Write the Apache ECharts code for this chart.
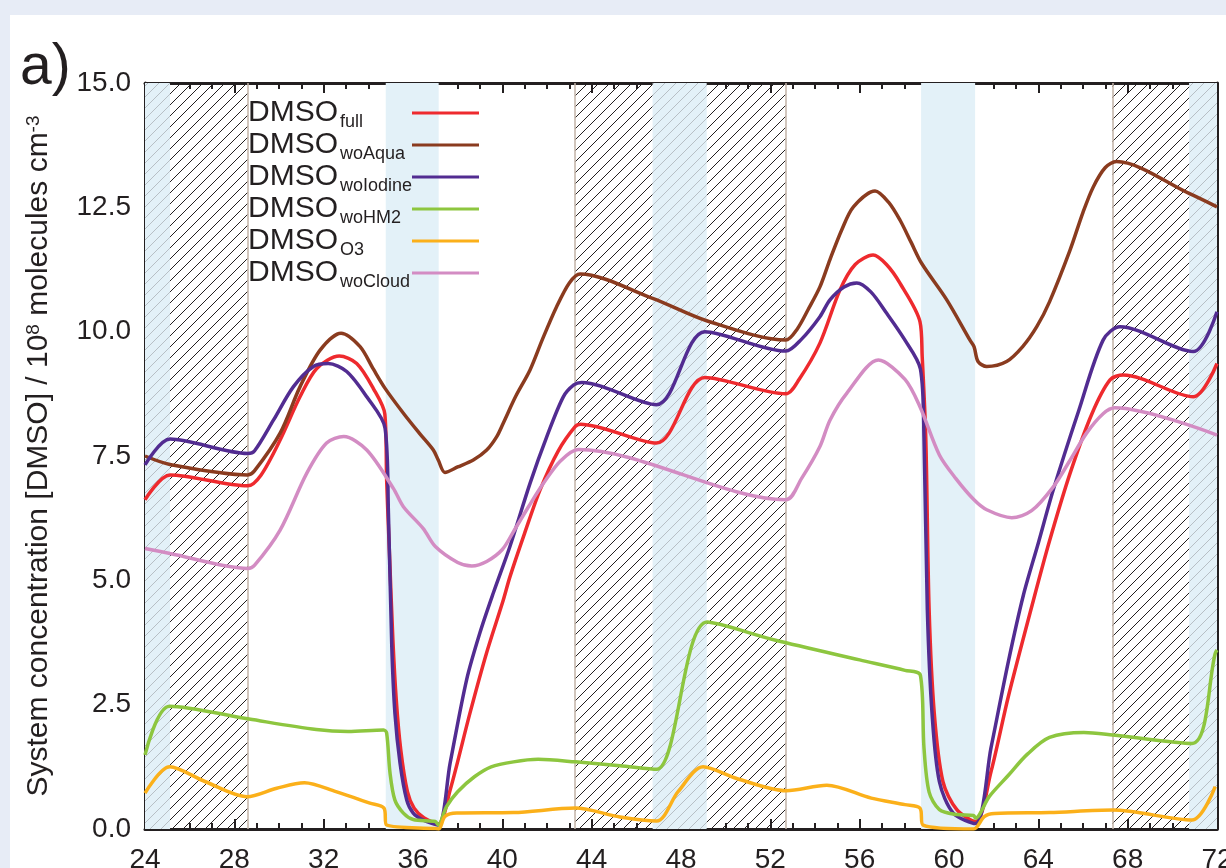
<!DOCTYPE html>
<html>
<head>
<meta charset="utf-8">
<title>DMSO system concentration</title>
<script src="https://cdn.jsdelivr.net/npm/echarts@6/dist/echarts.min.js"></script>
<style>
    html, body { margin: 0; padding: 0; background: #e7ecf6; }
    #chart1 { width: 1226px; height: 868px; }
</style>
</head>
<body>
<div id="chart1"></div>
<script>
// axis ticks
var hourTicks = [24, 28, 32, 36, 40, 44, 48, 52, 56, 60, 64, 68, 72];
var concTicks = [0, 2.5, 5, 7.5, 10, 12.5, 15];

// series: [hour, 10^8 molecules cm-3]
var dmsoFull = [[24, 6.62], [25.12, 7.12], [28.6, 6.90], [29.2, 7.12], [30.05, 7.82], [30.94, 8.69], [31.69, 9.26], [32.7, 9.51], [33.48, 9.36], [34.22, 8.86], [34.74, 8.34], [34.82, 7.02], [34.95, 5.5], [35.1, 3.8], [35.25, 2.6], [35.45, 1.6], [35.75, 0.75], [36.05, 0.42], [36.5, 0.22], [37.13, 0.10], [37.66, 0.78], [38.55, 2.33], [39.3, 3.55], [40.04, 4.6], [40.34, 5.07], [41.0, 5.95], [41.69, 6.82], [42.5, 7.6], [43.26, 8.09], [43.5, 8.14], [46.9, 7.76], [49.07, 9.08], [52.69, 8.75], [53.3, 9.05], [54.22, 9.77], [55.12, 10.84], [55.8, 11.35], [56.6, 11.54], [57.2, 11.35], [57.81, 10.97], [58.7, 10.20], [58.8, 9.5], [58.96, 7.87], [59.11, 4.41], [59.34, 2.33], [59.73, 0.95], [60.35, 0.39], [61.19, 0.15], [61.88, 1.15], [62.66, 2.67], [63.78, 4.6], [64.5, 5.79], [65.42, 7.15], [66.4, 8.35], [67.21, 9.03], [67.8, 9.13], [70.94, 8.69], [72, 9.36]];
var dmsoWoAqua = [[24, 7.50], [25.12, 7.33], [28.6, 7.12], [28.9, 7.2], [30.05, 7.96], [30.94, 8.89], [31.84, 9.63], [32.78, 9.97], [33.63, 9.70], [34.22, 9.25], [34.75, 8.86], [35.57, 8.36], [36.3, 7.95], [36.91, 7.62], [37.13, 7.42], [37.43, 7.17], [38.0, 7.28], [38.7, 7.42], [39.3, 7.62], [39.75, 7.89], [40.04, 8.16], [40.6, 8.7], [41.24, 9.23], [41.8, 9.85], [42.43, 10.50], [43.0, 10.98], [43.48, 11.16], [46.73, 10.67], [49.15, 10.22], [52.69, 9.83], [53.2, 10.05], [53.7, 10.45], [54.22, 10.90], [54.67, 11.45], [55.2, 12.05], [55.72, 12.51], [56.69, 12.83], [57.3, 12.6], [57.81, 12.24], [58.3, 11.8], [58.78, 11.37], [59.9, 10.64], [60.94, 9.83], [61.12, 9.7], [61.3, 9.4], [61.69, 9.30], [62.58, 9.40], [63.3, 9.7], [63.93, 10.10], [64.5, 10.6], [65.42, 11.64], [66.0, 12.4], [66.46, 12.91], [67.0, 13.3], [67.5, 13.42], [70.75, 12.78], [72, 12.51]];
var dmsoWoIodine = [[24, 7.32], [25.12, 7.84], [28.6, 7.55], [28.9, 7.6], [29.75, 8.22], [30.64, 8.89], [31.54, 9.30], [32.2, 9.36], [33.03, 9.20], [33.93, 8.69], [34.75, 8.06], [34.9, 6.35], [35.05, 3.67], [35.19, 2.33], [35.42, 1.32], [35.72, 0.58], [36.01, 0.32], [36.46, 0.18], [37.13, 0.08], [37.66, 1.32], [38.4, 3.0], [39.0, 3.95], [39.6, 4.75], [40.34, 5.68], [41.24, 6.95], [42.0, 7.9], [42.73, 8.69], [43.2, 8.93], [43.55, 8.98], [46.9, 8.53], [49.07, 10.0], [52.69, 9.61], [53.4, 9.85], [54.22, 10.30], [54.67, 10.64], [55.3, 10.9], [55.87, 10.98], [56.5, 10.8], [57.21, 10.37], [58.0, 9.85], [58.72, 9.25], [58.88, 7.87], [59.03, 4.41], [59.24, 2.33], [59.57, 0.95], [60.19, 0.32], [61.19, 0.11], [61.88, 1.63], [62.66, 3.37], [63.33, 4.7], [64.0, 5.75], [64.67, 6.82], [65.8, 8.4], [66.9, 9.83], [67.66, 10.10], [70.94, 9.60], [72, 10.40]];
var dmsoWoHM2 = [[24, 1.49], [25.1, 2.47], [28.66, 2.21], [31.67, 2.00], [33.09, 1.96], [34.68, 1.99], [34.82, 1.93], [34.97, 1.13], [35.19, 0.58], [35.57, 0.32], [36.01, 0.19], [37.0, 0.15], [37.13, 0.08], [37.5, 0.45], [38.0, 0.75], [38.75, 1.05], [39.5, 1.25], [40.5, 1.35], [41.6, 1.40], [43.27, 1.35], [45.27, 1.27], [46.91, 1.20], [49.17, 4.16], [52.19, 3.80], [56.0, 3.40], [58.03, 3.19], [58.72, 3.09], [58.88, 1.63], [59.11, 0.74], [59.57, 0.39], [60.35, 0.29], [61.1, 0.27], [61.19, 0.22], [61.8, 0.65], [62.66, 1.08], [63.5, 1.5], [64.5, 1.84], [66.04, 1.94], [67.33, 1.89], [70.88, 1.72], [71.92, 3.53], [72, 3.6]];
var dmsoO3 = [[24, 0.72], [25.1, 1.25], [26.71, 0.95], [28.57, 0.65], [29.9, 0.82], [31.14, 0.93], [32.55, 0.75], [34.07, 0.52], [34.7, 0.42], [34.82, 0.08], [37.0, 0.01], [37.16, 0.0], [37.43, 0.25], [37.96, 0.32], [40.5, 0.33], [43.27, 0.42], [45.27, 0.24], [46.91, 0.16], [47.87, 0.75], [48.99, 1.25], [50.46, 1.02], [52.71, 0.77], [54.53, 0.88], [56.52, 0.62], [58.03, 0.49], [58.7, 0.42], [58.84, 0.08], [61.1, 0.0], [61.58, 0.25], [62.04, 0.31], [64.5, 0.33], [67.33, 0.38], [70.88, 0.18], [71.92, 0.85]];
var dmsoWoCloud = [[24, 5.64], [25.12, 5.54], [28.6, 5.24], [28.9, 5.3], [30.05, 6.01], [31.24, 7.15], [32.13, 7.76], [32.9, 7.89], [33.93, 7.62], [35.12, 6.85], [35.57, 6.48], [36.46, 6.04], [37.0, 5.68], [38.0, 5.36], [38.63, 5.29], [39.3, 5.38], [40.0, 5.62], [40.5, 5.98], [41.2, 6.5], [41.84, 6.95], [42.6, 7.4], [43.4, 7.63], [52.69, 6.62], [53.4, 7.05], [54.22, 7.69], [54.67, 8.22], [55.42, 8.76], [56.84, 9.43], [58.03, 9.04], [58.7, 8.49], [59.57, 7.52], [60.3, 7.05], [61.12, 6.62], [61.69, 6.42], [62.81, 6.26], [63.7, 6.4], [64.67, 6.88], [65.4, 7.4], [66.16, 7.96], [66.9, 8.35], [67.43, 8.47], [72, 7.92]];

var seriesNames = ['full', 'woAqua', 'woIodine', 'woHM2', 'O3', 'woCloud'];
var seriesData = [dmsoFull, dmsoWoAqua, dmsoWoIodine, dmsoWoHM2, dmsoO3, dmsoWoCloud];
var seriesColors = ['#ee2a2e', '#8a3b1f', '#522c91', '#8dc63f', '#fbb01a', '#d38cc3'];

// shaded periods [from, to] in hours
var hatchPeriods = [[25.12, 28.6], [43.26, 46.73], [49.15, 52.69], [67.31, 70.75]];
var blueHatchPeriods = [[24, 25.12], [46.73, 49.15], [70.75, 72]];
var bluePeriods = [[34.78, 37.15], [58.75, 61.17]];
var edgeLines = [28.6, 43.26, 52.69, 67.31];

window.onload = function () {
    drawChart1();
};

function hatch(bg, fg) {
    var s = 11;
    var c = document.createElement('canvas');
    c.width = s;
    c.height = s;
    var ctx = c.getContext('2d');
    if (bg) {
        ctx.fillStyle = bg;
        ctx.fillRect(0, 0, s, s);
    }
    ctx.strokeStyle = fg;
    ctx.lineWidth = 1;
    ctx.beginPath();
    ctx.moveTo(0, s);
    ctx.lineTo(s, 0);
    ctx.moveTo(-1, 1);
    ctx.lineTo(1, -1);
    ctx.moveTo(s - 1, s + 1);
    ctx.lineTo(s + 1, s - 1);
    ctx.stroke();
    return c;
}

// chart1
function drawChart1() {
    var dom1 = document.getElementById("chart1");
    var myChart1 = echarts.init(dom1);
    var ink = '#231f20';
    var font = 'Liberation Sans';

    var blackHatch = { image: hatch(null, '#231f20'), repeat: 'repeat' };
    var grayHatch = { image: hatch('#e3f1f8', '#b7bfc5'), repeat: 'repeat' };

    var areas = [];
    hatchPeriods.forEach(function (p) {
        areas.push([{ xAxis: p[0], itemStyle: { color: blackHatch } }, { xAxis: p[1] }]);
    });
    blueHatchPeriods.forEach(function (p) {
        areas.push([{ xAxis: p[0], itemStyle: { color: grayHatch } }, { xAxis: p[1] }]);
    });
    bluePeriods.forEach(function (p) {
        areas.push([{ xAxis: p[0], itemStyle: { color: '#e3f1f8' } }, { xAxis: p[1] }]);
    });

    var series = [{
        type: 'line',
        data: [],
        silent: true,
        markArea: {
            silent: true,
            data: areas
        },
        markLine: {
            silent: true,
            z: 1,
            symbol: 'none',
            label: { show: false },
            lineStyle: { color: '#c2b3a7', width: 1.5, type: 'solid' },
            data: edgeLines.map(function (x) { return { xAxis: x }; })
        }
    }];
    seriesNames.forEach(function (n, i) {
        series.push({
            name: n,
            type: 'line',
            smooth: 0.3,
            symbol: 'none',
            color: seriesColors[i],
            lineStyle: { width: 3.5 },
            data: seriesData[i]
        });
    });

    var tickStep = hourTicks[1] - hourTicks[0];
    var concStep = concTicks[1] - concTicks[0];

    option = null;
    option = {
        animation: false,
        backgroundColor: '#e7ecf6',
        textStyle: { fontFamily: font },
        graphic: [{
            type: 'rect',
            z: -10,
            shape: { x: 10, y: 15, width: 1226, height: 868 },
            style: { fill: '#ffffff' }
        }, {
            type: 'text',
            z: 10,
            style: {
                text: 'a)',
                x: 20,
                y: 97,
                verticalAlign: 'bottom',
                font: '57px "Liberation Sans"',
                fill: ink
            }
        }],
        legend: {
            orient: 'vertical',
            left: 248,
            top: 98,
            padding: 0,
            itemGap: -1,
            align: 'right',
            icon: 'rect',
            itemWidth: 67,
            itemHeight: 3,
            data: seriesNames,
            formatter: function (name) {
                return '{a|DMSO}{b|' + name + '}';
            },
            textStyle: {
                color: ink,
                rich: {
                    a: { fontSize: 30, lineHeight: 30, width: 92, align: 'left', verticalAlign: 'top', fontFamily: font, color: ink },
                    b: { fontSize: 18, lineHeight: 18, width: 67, align: 'left', verticalAlign: 'top', padding: [15, 0, 0, 0], fontFamily: font, color: ink }
                }
            }
        },
        grid: {
            left: 145,
            top: 83,
            width: 1072,
            height: 746,
            outerBoundsMode: 'none'
        },
        xAxis: [{
            type: 'value',
            min: hourTicks[0],
            max: hourTicks[hourTicks.length - 1],
            interval: tickStep,
            axisLine: { onZero: false, lineStyle: { color: ink, width: 3 } },
            axisTick: { inside: true, length: 10, lineStyle: { color: ink, width: 2 } },
            minorTick: { show: true, splitNumber: 4, length: 6, lineStyle: { color: ink, width: 2 } },
            splitLine: { show: false },
            axisLabel: { fontSize: 28, color: ink, margin: 17, fontFamily: font }
        }, {
            type: 'value',
            position: 'top',
            min: hourTicks[0],
            max: hourTicks[hourTicks.length - 1],
            interval: tickStep,
            axisLine: { onZero: false, lineStyle: { color: ink, width: 3 } },
            axisTick: { inside: true, length: 10, lineStyle: { color: ink, width: 2 } },
            minorTick: { show: true, splitNumber: 4, length: 6, lineStyle: { color: ink, width: 2 } },
            splitLine: { show: false },
            axisLabel: { show: false }
        }],
        yAxis: [{
            type: 'value',
            min: concTicks[0],
            max: concTicks[concTicks.length - 1],
            interval: concStep,
            axisLine: { show: true, onZero: false, lineStyle: { color: ink, width: 3 } },
            axisTick: { show: true, inside: true, length: 10, lineStyle: { color: ink, width: 2 } },
            minorTick: { show: true, splitNumber: 2, length: 5, lineStyle: { color: ink, width: 2 } },
            splitLine: { show: false },
            axisLabel: {
                fontSize: 28, color: ink, margin: 14, fontFamily: font,
                formatter: function (v) { return v.toFixed(1); }
            },
            name: '{t|System concentration [DMSO] / 10}{s|8}{t| molecules cm}{s|-3}',
            nameLocation: 'middle',
            nameGap: 88,
            nameTextStyle: {
                rich: {
                    t: { fontSize: 30, lineHeight: 33, verticalAlign: 'top', color: ink, fontFamily: font },
                    s: { fontSize: 19, lineHeight: 19, verticalAlign: 'top', color: ink, fontFamily: font }
                }
            }
        }, {
            type: 'value',
            position: 'right',
            min: concTicks[0],
            max: concTicks[concTicks.length - 1],
            interval: concStep,
            axisLine: { show: true, onZero: false, lineStyle: { color: ink, width: 3 } },
            axisTick: { show: true, inside: true, length: 10, lineStyle: { color: ink, width: 2 } },
            minorTick: { show: true, splitNumber: 2, length: 5, lineStyle: { color: ink, width: 2 } },
            splitLine: { show: false },
            axisLabel: { show: false }
        }],
        series: series
    };
    if (option && typeof option === "object") {
        myChart1.setOption(option, true);
        window.onresize = myChart1.resize;
    }
}
</script>
</body>
</html>
